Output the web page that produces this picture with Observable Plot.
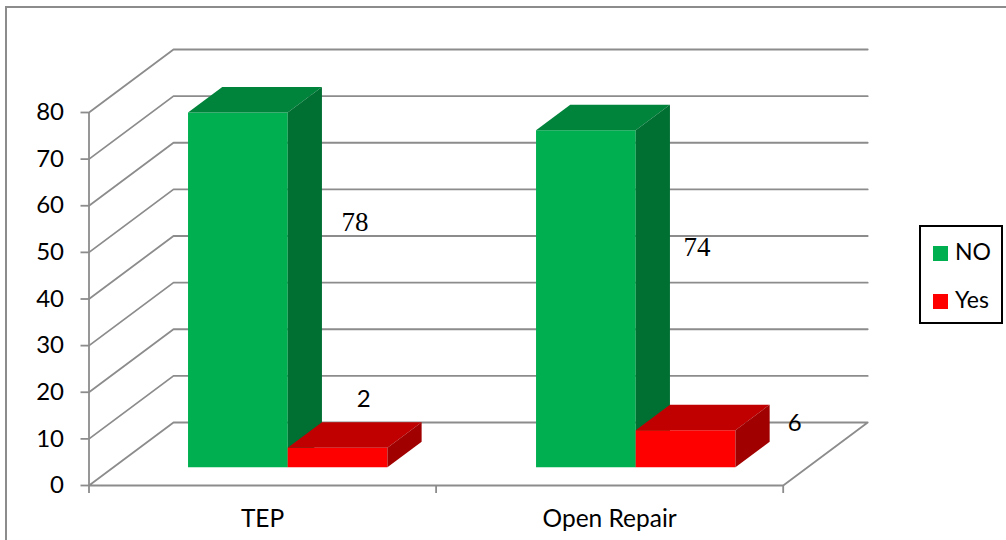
<!DOCTYPE html>
<html>
<head>
<meta charset="utf-8">
<script src="https://cdn.jsdelivr.net/npm/d3@7"></script>
<script src="https://cdn.jsdelivr.net/npm/@observablehq/plot@0.6"></script>
<style>
  html, body { margin: 0; background: #fff; }
  #chart { position: relative; width: 1006px; height: 540px; overflow: hidden; font-family: Lato, sans-serif; }
  #chart svg { position: absolute; left: 0; top: 0; }
  .frame { position: absolute; left: 5px; top: 6px; width: 1010px; height: 600px; border: 2px solid #8c8c8c; box-sizing: border-box; }
  .legend { position: absolute; left: 919px; top: 225px; width: 84px; height: 99px; border: 2px solid #000; box-sizing: border-box; background: #fff; color: #000; font-size: 23px; }
  .legend div { position: absolute; left: 12px; height: 28px; line-height: 28px; white-space: nowrap; }
  .legend i { display: inline-block; width: 15px; height: 15px; margin-right: 7px; vertical-align: -1px; }
</style>
</head>
<body>
<div id="chart">
  <div class="frame"></div>
  <div class="legend" id="legend"></div>
</div>
<script>
// Chart values
const categories = ["TEP", "Open Repair"];
const seriesNames = ["NO", "Yes"];
const noValues = [78, 74];
const yesValues = [2, 6];
const valueTicks = [0, 10, 20, 30, 40, 50, 60, 70, 80];

// Colours per series: front, top and side faces
const faceColors = {
  NO: {front: "#00b050", top: "#00843c", side: "#006f32"},
  Yes: {front: "#ff0000", top: "#c00000", side: "#a00000"}
};
const gridColor = "#8c8c8c";

// Oblique projection: depth 0 is the front edge of the floor, depth 1 the back wall.
// One unit of x is a category, one unit of y is a value on the axis.
const unitX = 347.1, unitY = 4.6625;
const depthX = 84.5 / unitX, depthY = 63 / unitY;
const project = (x, y, depth) => ({x: x + depth * depthX, y: y + depth * depthY});

// Bars occupy a slab in the middle of the floor; its vertical scale is slightly
// foreshortened compared with the axis drawn at the front.
const barDepthFront = 0.29, barDepthBack = 0.695;
const barWidth = 99.7 / unitX;
const groupSpacing = 1.0026;
const firstBarStart = 0.2853 - barDepthFront * depthX;
const barRise = (v) => 0.946 * v + 2.27;

function barFaces(value, series, catIndex, seriesIndex) {
  const x0 = firstBarStart + catIndex * groupSpacing + seriesIndex * barWidth;
  const x1 = x0 + barWidth;
  const h = barRise(value);
  const f = barDepthFront, b = barDepthBack;
  const faces = {
    front: [project(x0, 0, f), project(x1, 0, f), project(x1, h, f), project(x0, h, f)],
    top: [project(x0, h, f), project(x1, h, f), project(x1, h, b), project(x0, h, b)],
    side: [project(x1, 0, f), project(x1, 0, b), project(x1, h, b), project(x1, h, f)]
  };
  return Object.entries(faces).flatMap(([face, pts]) =>
    pts.map((pt) => ({...pt, id: `${series}-${catIndex}-${face}`, color: faceColors[series][face]}))
  );
}

const bars = [
  ...categories.flatMap((_, i) => barFaces(noValues[i], "NO", i, 0)),
  ...categories.flatMap((_, i) => barFaces(yesValues[i], "Yes", i, 1))
];

// Wall gridlines: up the side wall from the front axis, then along the back wall
const gridLines = valueTicks.filter((v) => v > 0).flatMap((v) => [
  {...project(0, v, 0), v},
  {...project(0, v, 1), v},
  {...project(2, v, 1), v}
]);

// Floor outline
const floor = [project(0, 0, 0), project(0, 0, 1), project(2, 0, 1), project(2, 0, 0), project(0, 0, 0)];

// Value labels sit beside their bars, nudged in pixels from the bar's back top corner
const labelNudge = {
  "NO-0": [33, 135, "Liberation Serif"],
  "NO-1": [27, 143, "Liberation Serif"],
  "Yes-0": [-58, -23, "Lato"],
  "Yes-1": [25, 19, "Lato"]
};
const valueLabels = ["NO", "Yes"].flatMap((series, s) =>
  categories.map((_, i) => {
    const value = (s === 0 ? noValues : yesValues)[i];
    const x1 = firstBarStart + i * groupSpacing + (s + 1) * barWidth;
    const [dx, dy, font] = labelNudge[`${series}-${i}`];
    return {...project(x1, barRise(value), barDepthBack), value, dx, dy, font};
  })
);

const plot = Plot.plot({
  width: 1006,
  height: 540,
  margin: 0,
  style: {background: "transparent", overflow: "visible"},
  x: {axis: null, domain: [-88.5 / unitX, (1006 - 88.5) / unitX], range: [0, 1006]},
  y: {axis: null, domain: [(485 - 540) / unitY, 485 / unitY], range: [540, 0]},
  color: {type: "identity"},
  marks: [
    // Side and back walls
    Plot.line(gridLines, {x: "x", y: "y", z: "v", stroke: gridColor, strokeWidth: 1.8}),
    Plot.line(floor, {x: "x", y: "y", stroke: gridColor, strokeWidth: 1.8}),
    // Axes
    Plot.ruleX([0], {y1: 0, y2: 80, stroke: gridColor, strokeWidth: 1.8}),
    Plot.ruleY(valueTicks, {x1: -8 / unitX, x2: 0, stroke: gridColor, strokeWidth: 1.8}),
    Plot.ruleX([0, 1, 2], {y1: -8 / unitY, y2: 0, stroke: gridColor, strokeWidth: 1.8}),
    Plot.text(valueTicks, {x: 0, y: (d) => d, dx: -25, textAnchor: "end", text: (d) => String(d), fontFamily: "Lato", fontSize: 24, fill: "#000"}),
    Plot.text(categories, {x: (_, i) => i + 0.5, y: 0, dy: 34, text: (d) => d, fontFamily: "Lato", fontSize: 24.5, fill: "#000"}),
    // Bars
    Plot.line(bars, {x: "x", y: "y", z: "id", fill: "color", stroke: null}),
    // Value labels
    ...valueLabels.map((d) => Plot.text([d], {
      x: "x", y: "y", dx: d.dx, dy: d.dy, text: (r) => String(r.value),
      fontFamily: d.font, fontSize: d.font === "Lato" ? 24 : 27, fill: "#000"
    }))
  ]
});
document.getElementById("chart").insertBefore(plot, document.getElementById("legend"));

// Legend box to the right of the plot
const legend = document.getElementById("legend");
seriesNames.forEach((name, i) => {
  const row = document.createElement("div");
  row.style.top = `${i === 0 ? 10 : 58}px`;
  const swatch = document.createElement("i");
  swatch.style.background = faceColors[name].front;
  row.append(swatch, name);
  legend.append(row);
});
</script>
</body>
</html>
